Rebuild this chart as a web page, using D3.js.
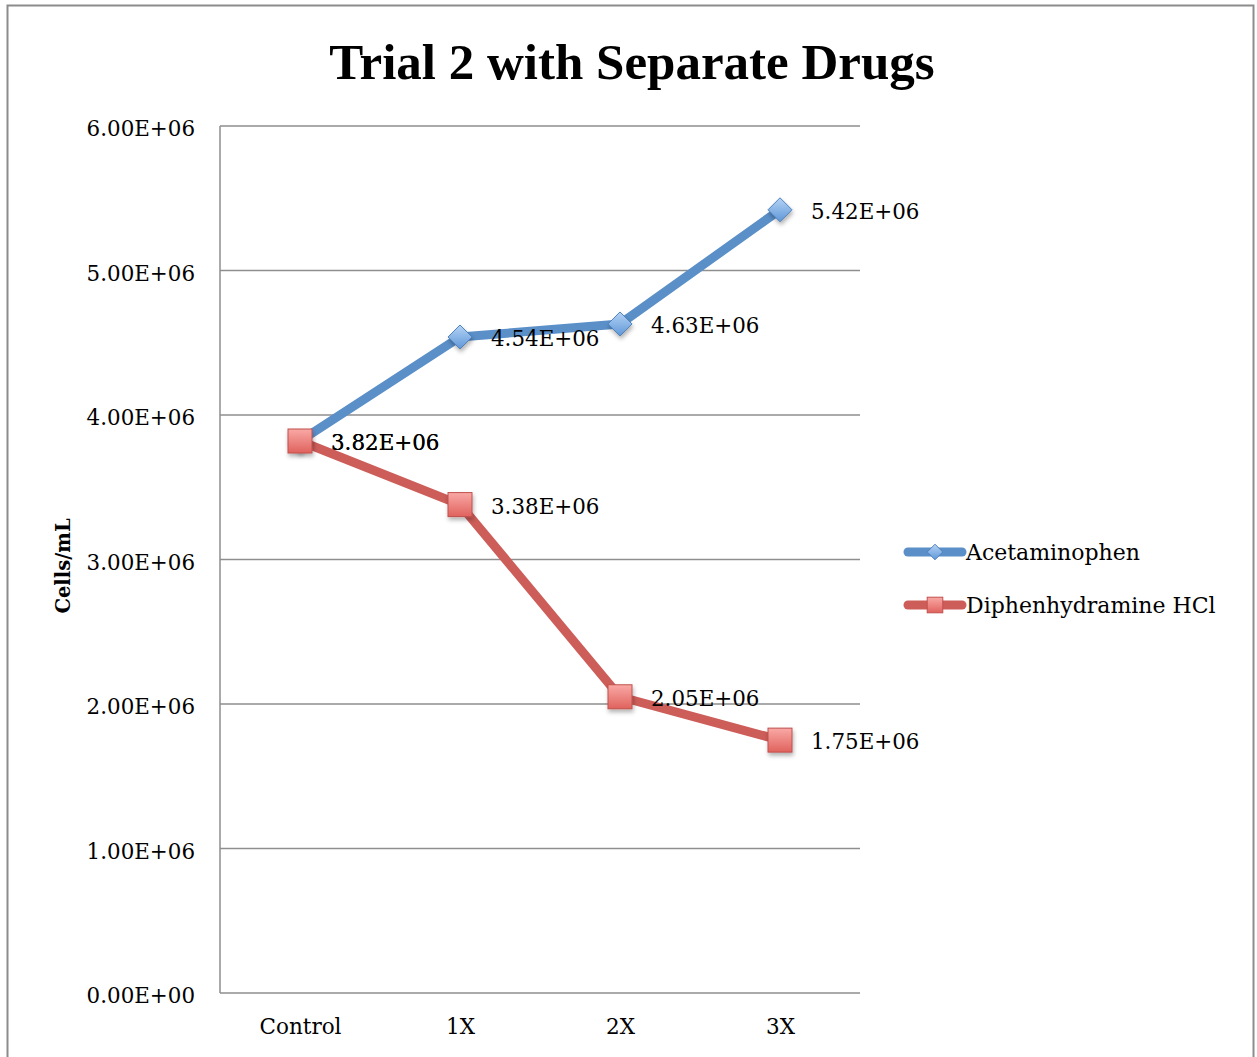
<!DOCTYPE html>
<html>
<head>
  <meta charset="utf-8">
  <script src="https://d3js.org/d3.v7.min.js"></script>
  <style>
    body { margin: 0; background: #fff; }
    text { font-family: "DejaVu Serif", "Liberation Serif", serif; fill: #000; }
  </style>
</head>
<body>
<script>
  // chart data
  var categories = ["Control", "1X", "2X", "3X"];
  var acetaminophen = [3.82e6, 4.54e6, 4.63e6, 5.42e6];
  var diphenhydramine = [3.82e6, 3.38e6, 2.05e6, 1.75e6];
  var seriesNames = ["Acetaminophen", "Diphenhydramine HCl"];
  var yTicks = [0, 1e6, 2e6, 3e6, 4e6, 5e6, 6e6];

  var W = 1257, H = 1057;
  var svg = d3.select("body").append("svg")
      .attr("width", W).attr("height", H);

  var defs = svg.append("defs");
  var gb = defs.append("linearGradient").attr("id", "gBlue")
      .attr("x1", 0).attr("y1", 0).attr("x2", 0).attr("y2", 1);
  gb.append("stop").attr("offset", "0%").attr("stop-color", "#b5d3f5");
  gb.append("stop").attr("offset", "100%").attr("stop-color", "#5f97d8");
  var gr = defs.append("linearGradient").attr("id", "gRed")
      .attr("x1", 0).attr("y1", 0).attr("x2", 0).attr("y2", 1);
  gr.append("stop").attr("offset", "0%").attr("stop-color", "#f9a9a6");
  gr.append("stop").attr("offset", "100%").attr("stop-color", "#e0625d");
  var sh = defs.append("filter").attr("id", "shadow")
      .attr("x", "-50%").attr("y", "-50%").attr("width", "200%").attr("height", "200%");
  sh.append("feDropShadow").attr("dx", 1).attr("dy", 3).attr("stdDeviation", 2)
      .attr("flood-color", "#000").attr("flood-opacity", 0.3);

  // outer chart border
  svg.append("rect").attr("x", 7.5).attr("y", 5.5)
      .attr("width", 1246).attr("height", 1060)
      .attr("fill", "none").attr("stroke", "#8c8c8c").attr("stroke-width", 2);

  var plotLeft = 220, plotRight = 860, plotTop = 126, plotBottom = 993;

  var x = d3.scalePoint().domain(categories).range([plotLeft, plotRight]).padding(0.5);
  var y = d3.scaleLinear().domain([0, 6e6]).range([plotBottom, plotTop]);

  var fmt = function (v) {
    var e = v === 0 ? 0 : Math.floor(Math.log10(Math.abs(v)));
    var m = v / Math.pow(10, e);
    return m.toFixed(2) + "E+" + (e < 10 ? "0" : "") + e;
  };

  // gridlines
  svg.append("g").selectAll("line").data(yTicks).join("line")
      .attr("x1", plotLeft).attr("x2", plotRight)
      .attr("y1", function (d) { return y(d); }).attr("y2", function (d) { return y(d); })
      .attr("stroke", "#8e8e8e").attr("stroke-width", 1.5);
  svg.append("line").attr("x1", plotLeft).attr("x2", plotLeft).attr("y1", plotTop).attr("y2", plotBottom)
      .attr("stroke", "#8e8e8e").attr("stroke-width", 1.5);

  // y axis labels
  var yAxis = d3.axisLeft(y).tickValues(yTicks).tickSize(0).tickPadding(25).tickFormat(fmt);
  var ya = svg.append("g").attr("transform", "translate(" + plotLeft + ",3)").call(yAxis);
  ya.select(".domain").remove();
  ya.selectAll("text").style("font-size", "21.4px").attr("font-family", null);

  // x axis labels
  var xAxis = d3.axisBottom(x).tickSize(0).tickPadding(26);
  var xa = svg.append("g").attr("transform", "translate(0," + plotBottom + ")").call(xAxis);
  xa.select(".domain").remove();
  xa.selectAll("text").style("font-size", "21.5px").attr("font-family", null);

  // title
  svg.append("text").attr("x", 632).attr("y", 79).attr("text-anchor", "middle")
      .style("font-family", "'Liberation Serif', serif")
      .style("font-size", "51px").style("font-weight", "bold")
      .text("Trial 2 with Separate Drugs");

  // y axis title
  svg.append("text").attr("transform", "translate(70,566) rotate(-90)")
      .attr("text-anchor", "middle").style("font-size", "19.5px").style("font-weight", "bold")
      .text("Cells/mL");

  var line = d3.line()
      .x(function (d, i) { return x(categories[i]); })
      .y(function (d) { return y(d); });

  var series = [
    { name: seriesNames[0], values: acetaminophen, color: "#5a8fc8", fill: "url(#gBlue)", stroke: "#4f81bd", shape: "diamond" },
    { name: seriesNames[1], values: diphenhydramine, color: "#cd5d59", fill: "url(#gRed)", stroke: "#c0504d", shape: "square" }
  ];

  function marker(g, s, cx, cy, scale) {
    if (s.shape === "diamond") {
      var r = 12 * scale;
      g.append("path")
        .attr("d", "M" + cx + "," + (cy - r) + "L" + (cx + r) + "," + cy + "L" + cx + "," + (cy + r) + "L" + (cx - r) + "," + cy + "Z")
        .attr("fill", s.fill).attr("stroke", s.stroke).attr("stroke-width", 1)
        .attr("filter", scale === 1 ? "url(#shadow)" : null);
    } else {
      var h = 12 * scale;
      g.append("rect").attr("x", cx - h).attr("y", cy - h)
        .attr("width", 2 * h).attr("height", 2 * h)
        .attr("fill", s.fill).attr("stroke", s.stroke).attr("stroke-width", 1)
        .attr("filter", scale === 1 ? "url(#shadow)" : null);
    }
  }

  series.forEach(function (s) {
    svg.append("path").datum(s.values).attr("d", line)
      .attr("fill", "none").attr("stroke", s.color).attr("stroke-width", 9)
      .attr("stroke-linejoin", "round");
  });
  series.forEach(function (s) {
    var g = svg.append("g");
    s.values.forEach(function (v, i) {
      marker(g, s, x(categories[i]), y(v), 1);
    });
  });
  // data labels
  series.forEach(function (s) {
    svg.append("g").selectAll("text").data(s.values).join("text")
      .attr("x", function (d, i) { return x(categories[i]) + 31; })
      .attr("y", function (d) { return y(d) + 9; })
      .style("font-size", "21.4px")
      .text(fmt);
  });

  // legend
  var lg = svg.append("g");
  series.forEach(function (s, i) {
    var ly = 552 + i * 53;
    lg.append("line").attr("x1", 908).attr("x2", 962).attr("y1", ly).attr("y2", ly)
      .attr("stroke", s.color).attr("stroke-width", 9).attr("stroke-linecap", "round");
    marker(lg, s, 935, ly, 0.65);
    lg.append("text").attr("x", 966).attr("y", ly + 8).style("font-size", "22px").text(s.name);
  });
</script>
</body>
</html>
